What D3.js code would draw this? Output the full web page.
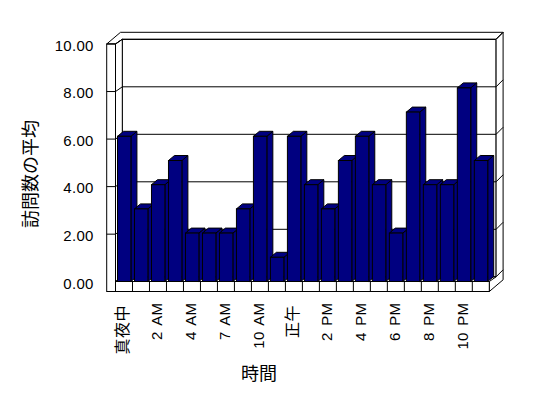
<!DOCTYPE html>
<html><head><meta charset="utf-8">
<script src="https://cdn.jsdelivr.net/npm/d3@7"></script>
<style>
html,body{margin:0;padding:0;background:#fff;}
svg{display:block;}
text{font-family:"Liberation Sans","Noto Sans CJK JP",sans-serif;fill:#000;}
</style></head>
<body>
<svg id="chart" width="548" height="398"></svg>
<script>
// ---- data ----
const categories = ["真夜中","1 AM","2 AM","3 AM","4 AM","6 AM","7 AM","9 AM","10 AM","11 AM","正午","1 PM","2 PM","3 PM","4 PM","5 PM","6 PM","7 PM","8 PM","9 PM","10 PM","11 PM"];
const values = [6,3,4,5,2,2,2,3,6,1,6,4,3,5,6,4,2,7,4,4,8,5];
const xTickLabels = ["真夜中","2 AM","4 AM","7 AM","10 AM","正午","2 PM","4 PM","6 PM","8 PM","10 PM"];
const yTickValues = [0,2,4,6,8,10];
const xTitle = "時間";
const yTitle = "訪問数の平均";

// ---- layout ----
const svg = d3.select("#chart");
const L = 106.7, X0 = 115.5, X1 = 489.3;
const FT = 10;                 // floor thickness
const dep = {x:6.8, y:-4.7};   // plot depth
const thk = {x:7, y:-7};       // back wall thickness
const bdep = {x:6, y:-5};      // bar depth
const navy = "#000080";

const x = d3.scaleBand().domain(categories).range([X0, X1]).padding(0);
const yFront = d3.scaleLinear().domain([0,10]).range([281.7,44]);
const yBack = d3.scaleLinear().domain([0,10]).range([276.8,39.3]);
const yBar = d3.scaleLinear().domain([0,10]).range([281.5,39.5]);

const YF0 = yBar(0), YTOP = yFront(10), YBT = yBack(10), YB0 = yBack(0);
const BX0 = X0 + dep.x, BX1 = X1 + dep.x;
const g = svg.append("g").attr("fill","#fff").attr("stroke","#000").attr("stroke-width",1);
const poly = pts => "M" + pts.map(p => p.join(",")).join("L") + "Z";

// back wall front face
g.append("rect").attr("x",BX0).attr("y",YBT).attr("width",BX1-BX0).attr("height",YB0-YBT);
// top faces of walls
g.append("path").attr("d", poly([[L,YTOP],[L+dep.x+thk.x,YBT+thk.y],[BX1+thk.x,YBT+thk.y],[BX1,YBT],[BX0,YBT],[X0,YTOP]]));
// right face of back wall + floor
g.append("path").attr("d", poly([[BX1,YBT],[BX1+thk.x,YBT+thk.y],[BX1+thk.x,YB0+FT+thk.y],[X1,YF0+FT],[X1,YF0],[BX1,YB0]]));
// left wall inner face
g.append("path").attr("d", poly([[X0,YTOP],[BX0,YBT],[BX0,YB0],[X0,YF0]]));
// left wall front face
g.append("rect").attr("x",L).attr("y",YTOP).attr("width",X0-L).attr("height",YF0+FT-YTOP);
// floor front face
g.append("rect").attr("x",X0).attr("y",YF0).attr("width",X1-X0).attr("height",FT);

// gridlines
const grid = g.append("g").attr("fill","none");
yTickValues.forEach(v => {
  grid.append("line").attr("x1",BX0).attr("x2",BX1).attr("y1",yBack(v)).attr("y2",yBack(v));
  grid.append("line").attr("x1",X0).attr("y1",yFront(v)).attr("x2",BX0).attr("y2",yBack(v));
  grid.append("line").attr("x1",BX1).attr("y1",yBack(v)).attr("x2",BX1+thk.x).attr("y2",yBack(v)+thk.y);
  if (v > 0) grid.append("line").attr("x1",L).attr("x2",X0).attr("y1",yFront(v)).attr("y2",yFront(v));
});
// floor category dividers
categories.forEach((c,i) => {
  if (i === 0) return;
  grid.append("line").attr("x1",x(c)).attr("x2",x(c)).attr("y1",YF0).attr("y2",YF0+FT);
});

// bars
const bw = x.bandwidth()*0.79;
const bars = g.append("g").attr("fill",navy).attr("stroke","#000");
categories.forEach((c,i) => {
  const bx = x(c) + 2, yt = yBar(values[i]), yb = yBar(0);
  const b = bars.append("g");
  b.append("path").attr("d", poly([[bx+bw,yt],[bx+bw+bdep.x,yt+bdep.y],[bx+bw+bdep.x,yb+bdep.y],[bx+bw,yb]]));
  b.append("path").attr("d", poly([[bx,yt],[bx+bdep.x,yt+bdep.y],[bx+bw+bdep.x,yt+bdep.y],[bx+bw,yt]]));
  b.append("rect").attr("x",bx).attr("y",yt).attr("width",bw).attr("height",yb-yt);
});

// y axis labels
const yAxis = svg.append("g").attr("transform",`translate(${L-13},0)`)
  .call(d3.axisLeft(yFront).tickValues(yTickValues).tickFormat(d3.format(".2f")).tickSize(0).tickPadding(0));
yAxis.select(".domain").remove();
yAxis.selectAll("text").attr("font-size",15).attr("font-family","Liberation Sans").attr("dy","0.42em").attr("letter-spacing","0.3px");

// x axis labels
const isCJK = d => /[\u3000-\u9fff]/.test(d);
const xAxis = svg.append("g").attr("transform",`translate(0,${YF0+FT})`)
  .call(d3.axisBottom(x).tickValues(categories.filter(c => xTickLabels.includes(c))).tickSize(0));
xAxis.select(".domain").remove();
xAxis.selectAll("text")
  .attr("transform","rotate(-90)")
  .attr("text-anchor","end")
  .attr("x", d => isCJK(d) ? -13.5 : -11.2)
  .attr("y", 4)
  .attr("dy", 0)
  .attr("word-spacing", "2px")
  .attr("letter-spacing", d => isCJK(d) ? "0.5px" : "0.3px")
  .attr("font-size", d => isCJK(d) ? 16 : 15);

// titles
svg.append("text").attr("x",259).attr("y",380).attr("text-anchor","middle")
  .attr("font-family","Noto Sans CJK JP").attr("font-size",18).text(xTitle);
svg.append("text").attr("transform","translate(37,174) rotate(-90)").attr("text-anchor","middle")
  .attr("font-family","Noto Sans CJK JP").attr("font-size",18).text(yTitle);
</script>
</body></html>
